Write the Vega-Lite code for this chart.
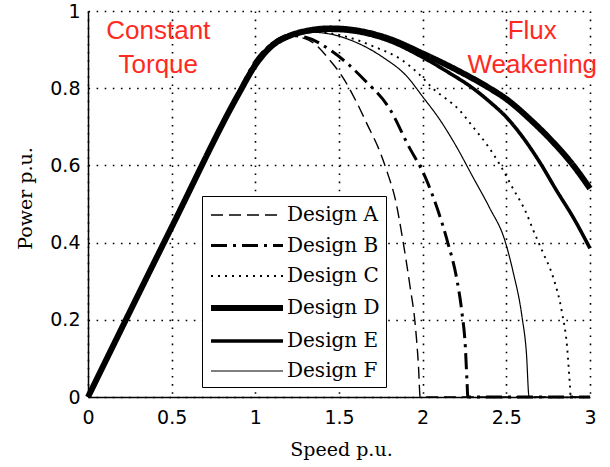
{
  "$schema": "https://vega.github.io/schema/vega-lite/v6.json",
  "width": 502,
  "height": 386,
  "autosize": "none",
  "padding": {"left": 88, "top": 11, "right": 20, "bottom": 70},
  "background": "white",
  "datasets": {
    "curves": [
      {"design": "Design A", "speed": 0, "power": 0},
      {"design": "Design A", "speed": 0.5, "power": 0.44},
      {"design": "Design A", "speed": 0.9, "power": 0.79},
      {"design": "Design A", "speed": 1.0, "power": 0.87},
      {"design": "Design A", "speed": 1.1, "power": 0.915},
      {"design": "Design A", "speed": 1.2, "power": 0.935},
      {"design": "Design A", "speed": 1.3, "power": 0.928},
      {"design": "Design A", "speed": 1.345, "power": 0.918},
      {"design": "Design A", "speed": 1.45, "power": 0.87},
      {"design": "Design A", "speed": 1.52, "power": 0.83},
      {"design": "Design A", "speed": 1.6, "power": 0.768},
      {"design": "Design A", "speed": 1.67, "power": 0.705},
      {"design": "Design A", "speed": 1.745, "power": 0.635},
      {"design": "Design A", "speed": 1.79, "power": 0.58},
      {"design": "Design A", "speed": 1.835, "power": 0.515},
      {"design": "Design A", "speed": 1.88, "power": 0.41},
      {"design": "Design A", "speed": 1.925, "power": 0.285},
      {"design": "Design A", "speed": 1.955, "power": 0.19},
      {"design": "Design A", "speed": 1.975, "power": 0.08},
      {"design": "Design A", "speed": 1.985, "power": 0},
      {"design": "Design A", "speed": 3.0, "power": 0},

      {"design": "Design B", "speed": 0, "power": 0},
      {"design": "Design B", "speed": 0.5, "power": 0.44},
      {"design": "Design B", "speed": 0.9, "power": 0.79},
      {"design": "Design B", "speed": 1.0, "power": 0.87},
      {"design": "Design B", "speed": 1.1, "power": 0.915},
      {"design": "Design B", "speed": 1.2, "power": 0.937},
      {"design": "Design B", "speed": 1.3, "power": 0.932},
      {"design": "Design B", "speed": 1.46, "power": 0.895},
      {"design": "Design B", "speed": 1.655, "power": 0.82},
      {"design": "Design B", "speed": 1.805, "power": 0.745},
      {"design": "Design B", "speed": 1.91, "power": 0.655},
      {"design": "Design B", "speed": 2.02, "power": 0.565},
      {"design": "Design B", "speed": 2.09, "power": 0.485},
      {"design": "Design B", "speed": 2.15, "power": 0.4},
      {"design": "Design B", "speed": 2.205, "power": 0.303},
      {"design": "Design B", "speed": 2.235, "power": 0.218},
      {"design": "Design B", "speed": 2.255, "power": 0.13},
      {"design": "Design B", "speed": 2.265, "power": 0.04},
      {"design": "Design B", "speed": 2.27, "power": 0},
      {"design": "Design B", "speed": 3.0, "power": 0},

      {"design": "Design C", "speed": 0, "power": 0},
      {"design": "Design C", "speed": 0.5, "power": 0.44},
      {"design": "Design C", "speed": 0.9, "power": 0.79},
      {"design": "Design C", "speed": 1.0, "power": 0.87},
      {"design": "Design C", "speed": 1.1, "power": 0.918},
      {"design": "Design C", "speed": 1.2, "power": 0.94},
      {"design": "Design C", "speed": 1.3, "power": 0.946},
      {"design": "Design C", "speed": 1.4, "power": 0.945},
      {"design": "Design C", "speed": 1.52, "power": 0.936},
      {"design": "Design C", "speed": 1.73, "power": 0.904},
      {"design": "Design C", "speed": 1.865, "power": 0.876},
      {"design": "Design C", "speed": 1.97, "power": 0.84},
      {"design": "Design C", "speed": 2.06, "power": 0.8},
      {"design": "Design C", "speed": 2.22, "power": 0.743},
      {"design": "Design C", "speed": 2.3, "power": 0.7},
      {"design": "Design C", "speed": 2.385, "power": 0.653},
      {"design": "Design C", "speed": 2.46, "power": 0.603},
      {"design": "Design C", "speed": 2.54, "power": 0.54},
      {"design": "Design C", "speed": 2.62, "power": 0.476},
      {"design": "Design C", "speed": 2.66, "power": 0.433},
      {"design": "Design C", "speed": 2.72, "power": 0.373},
      {"design": "Design C", "speed": 2.78, "power": 0.31},
      {"design": "Design C", "speed": 2.833, "power": 0.218},
      {"design": "Design C", "speed": 2.863, "power": 0.13},
      {"design": "Design C", "speed": 2.88, "power": 0.03},
      {"design": "Design C", "speed": 2.885, "power": 0},
      {"design": "Design C", "speed": 3.0, "power": 0},

      {"design": "Design D", "speed": 0, "power": 0},
      {"design": "Design D", "speed": 0.5, "power": 0.44},
      {"design": "Design D", "speed": 0.9, "power": 0.785},
      {"design": "Design D", "speed": 1.0, "power": 0.86},
      {"design": "Design D", "speed": 1.1, "power": 0.91},
      {"design": "Design D", "speed": 1.2, "power": 0.935},
      {"design": "Design D", "speed": 1.3, "power": 0.948},
      {"design": "Design D", "speed": 1.45, "power": 0.955},
      {"design": "Design D", "speed": 1.6, "power": 0.95},
      {"design": "Design D", "speed": 1.8, "power": 0.928},
      {"design": "Design D", "speed": 2.0, "power": 0.89},
      {"design": "Design D", "speed": 2.2, "power": 0.848},
      {"design": "Design D", "speed": 2.4, "power": 0.8},
      {"design": "Design D", "speed": 2.5, "power": 0.772},
      {"design": "Design D", "speed": 2.64, "power": 0.72},
      {"design": "Design D", "speed": 2.78, "power": 0.66},
      {"design": "Design D", "speed": 2.9, "power": 0.6},
      {"design": "Design D", "speed": 3.0, "power": 0.54},

      {"design": "Design E", "speed": 0, "power": 0},
      {"design": "Design E", "speed": 0.5, "power": 0.44},
      {"design": "Design E", "speed": 0.9, "power": 0.785},
      {"design": "Design E", "speed": 1.0, "power": 0.862},
      {"design": "Design E", "speed": 1.1, "power": 0.91},
      {"design": "Design E", "speed": 1.2, "power": 0.933},
      {"design": "Design E", "speed": 1.3, "power": 0.945},
      {"design": "Design E", "speed": 1.45, "power": 0.95},
      {"design": "Design E", "speed": 1.6, "power": 0.945},
      {"design": "Design E", "speed": 1.8, "power": 0.922},
      {"design": "Design E", "speed": 2.0, "power": 0.88},
      {"design": "Design E", "speed": 2.15, "power": 0.842},
      {"design": "Design E", "speed": 2.3, "power": 0.8},
      {"design": "Design E", "speed": 2.4, "power": 0.765},
      {"design": "Design E", "speed": 2.5, "power": 0.725},
      {"design": "Design E", "speed": 2.6, "power": 0.672},
      {"design": "Design E", "speed": 2.7, "power": 0.608},
      {"design": "Design E", "speed": 2.8, "power": 0.535},
      {"design": "Design E", "speed": 2.9, "power": 0.465},
      {"design": "Design E", "speed": 3.0, "power": 0.385},

      {"design": "Design F", "speed": 0, "power": 0},
      {"design": "Design F", "speed": 0.5, "power": 0.44},
      {"design": "Design F", "speed": 0.9, "power": 0.79},
      {"design": "Design F", "speed": 1.0, "power": 0.87},
      {"design": "Design F", "speed": 1.1, "power": 0.918},
      {"design": "Design F", "speed": 1.2, "power": 0.94},
      {"design": "Design F", "speed": 1.3, "power": 0.946},
      {"design": "Design F", "speed": 1.45, "power": 0.94},
      {"design": "Design F", "speed": 1.566, "power": 0.925},
      {"design": "Design F", "speed": 1.763, "power": 0.88},
      {"design": "Design F", "speed": 1.907, "power": 0.83},
      {"design": "Design F", "speed": 2.0, "power": 0.778},
      {"design": "Design F", "speed": 2.1, "power": 0.72},
      {"design": "Design F", "speed": 2.2, "power": 0.65},
      {"design": "Design F", "speed": 2.3, "power": 0.57},
      {"design": "Design F", "speed": 2.4, "power": 0.49},
      {"design": "Design F", "speed": 2.49, "power": 0.407},
      {"design": "Design F", "speed": 2.54, "power": 0.325},
      {"design": "Design F", "speed": 2.594, "power": 0.207},
      {"design": "Design F", "speed": 2.62, "power": 0.114},
      {"design": "Design F", "speed": 2.636, "power": 0},
      {"design": "Design F", "speed": 3.0, "power": 0}
    ]
  },
  "layer": [
    {
      "data": {"name": "curves"},
      "mark": {"type": "line", "interpolate": "monotone", "strokeCap": "butt", "strokeJoin": "round"},
      "encoding": {
        "x": {
          "field": "speed", "type": "quantitative",
          "scale": {"domain": [0, 3], "nice": false, "zero": false},
          "axis": {
            "title": "Speed p.u.",
            "values": [0, 0.5, 1, 1.5, 2, 2.5, 3],
            "format": "~g",
            "labelPadding": 11,
            "titleX": 253, "titleY": 58,
            "titleBaseline": "alphabetic"
          }
        },
        "y": {
          "field": "power", "type": "quantitative",
          "scale": {"domain": [0, 1], "nice": false, "zero": false},
          "axis": {
            "title": "Power p.u.",
            "values": [0, 0.2, 0.4, 0.6, 0.8, 1],
            "format": "~g",
            "labelPadding": 8,
            "titleX": -63, "titleY": 187,
            "titleAngle": -90,
            "titleAlign": "center",
            "titleBaseline": "middle"
          }
        },
        "color": {
          "field": "design", "type": "nominal", "title": null,
          "scale": {
            "domain": ["Design A", "Design B", "Design C", "Design D", "Design E", "Design F"],
            "range": ["#000000", "#000000", "#000000", "#000000", "#000000", "#000000"]
          }
        },
        "strokeDash": {
          "field": "design", "type": "nominal", "title": null,
          "scale": {
            "domain": ["Design A", "Design B", "Design C", "Design D", "Design E", "Design F"],
            "range": [[12, 6], [16, 6, 3, 6], [2, 5], [1, 0], [1, 0], [1, 0]]
          }
        },
        "strokeWidth": {
          "field": "design", "type": "nominal", "title": null,
          "scale": {
            "type": "ordinal",
            "domain": ["Design A", "Design B", "Design C", "Design D", "Design E", "Design F"],
            "range": [1.4, 3, 1.9, 6, 3.6, 1.2]
          }
        }
      }
    },
    {
      "data": {"values": [{}]},
      "mark": {
        "type": "text",
        "text": ["Constant", "Torque"],
        "font": "Liberation Sans", "fontSize": 26, "color": "#ff2a1f",
        "align": "center", "baseline": "alphabetic", "lineHeight": 34
      },
      "encoding": {
        "x": {"datum": 0.42, "type": "quantitative"},
        "y": {"datum": 0.927, "type": "quantitative"}
      }
    },
    {
      "data": {"values": [{}]},
      "mark": {
        "type": "text",
        "text": ["Flux", "Weakening"],
        "font": "Liberation Sans", "fontSize": 26, "color": "#ff2a1f",
        "align": "center", "baseline": "alphabetic", "lineHeight": 34
      },
      "encoding": {
        "x": {"datum": 2.655, "type": "quantitative"},
        "y": {"datum": 0.927, "type": "quantitative"}
      }
    }
  ],
  "config": {
    "view": {"stroke": null},
    "axis": {
      "grid": true,
      "gridColor": "#000000",
      "gridOpacity": 1,
      "gridWidth": 1.6,
      "gridDash": [1.6, 6.5],
      "gridCap": "butt",
      "domainColor": "#000000",
      "domainWidth": 1.5,
      "tickColor": "#000000",
      "tickSize": 0,
      "labelFont": "DejaVu Sans",
      "labelFontSize": 19,
      "labelColor": "#000000",
      "titleFont": "DejaVu Serif",
      "titleFontSize": 19,
      "titleFontWeight": "normal",
      "titleColor": "#000000",
      "labelFlush": false,
      "labelOverlap": false
    },
    "legend": {
      "orient": "none",
      "legendX": 114,
      "legendY": 185,
      "direction": "vertical",
      "strokeColor": "#000000",
      "fillColor": "#ffffff",
      "padding": 6,
      "symbolType": "M-1,0H5",
      "symbolSize": 576,
      "symbolStrokeColor": "#000000",
      "labelFont": "DejaVu Serif",
      "labelFontSize": 20,
      "labelColor": "#000000",
      "labelOffset": 49,
      "rowPadding": 7,
      "labelLimit": 200
    }
  }
}
